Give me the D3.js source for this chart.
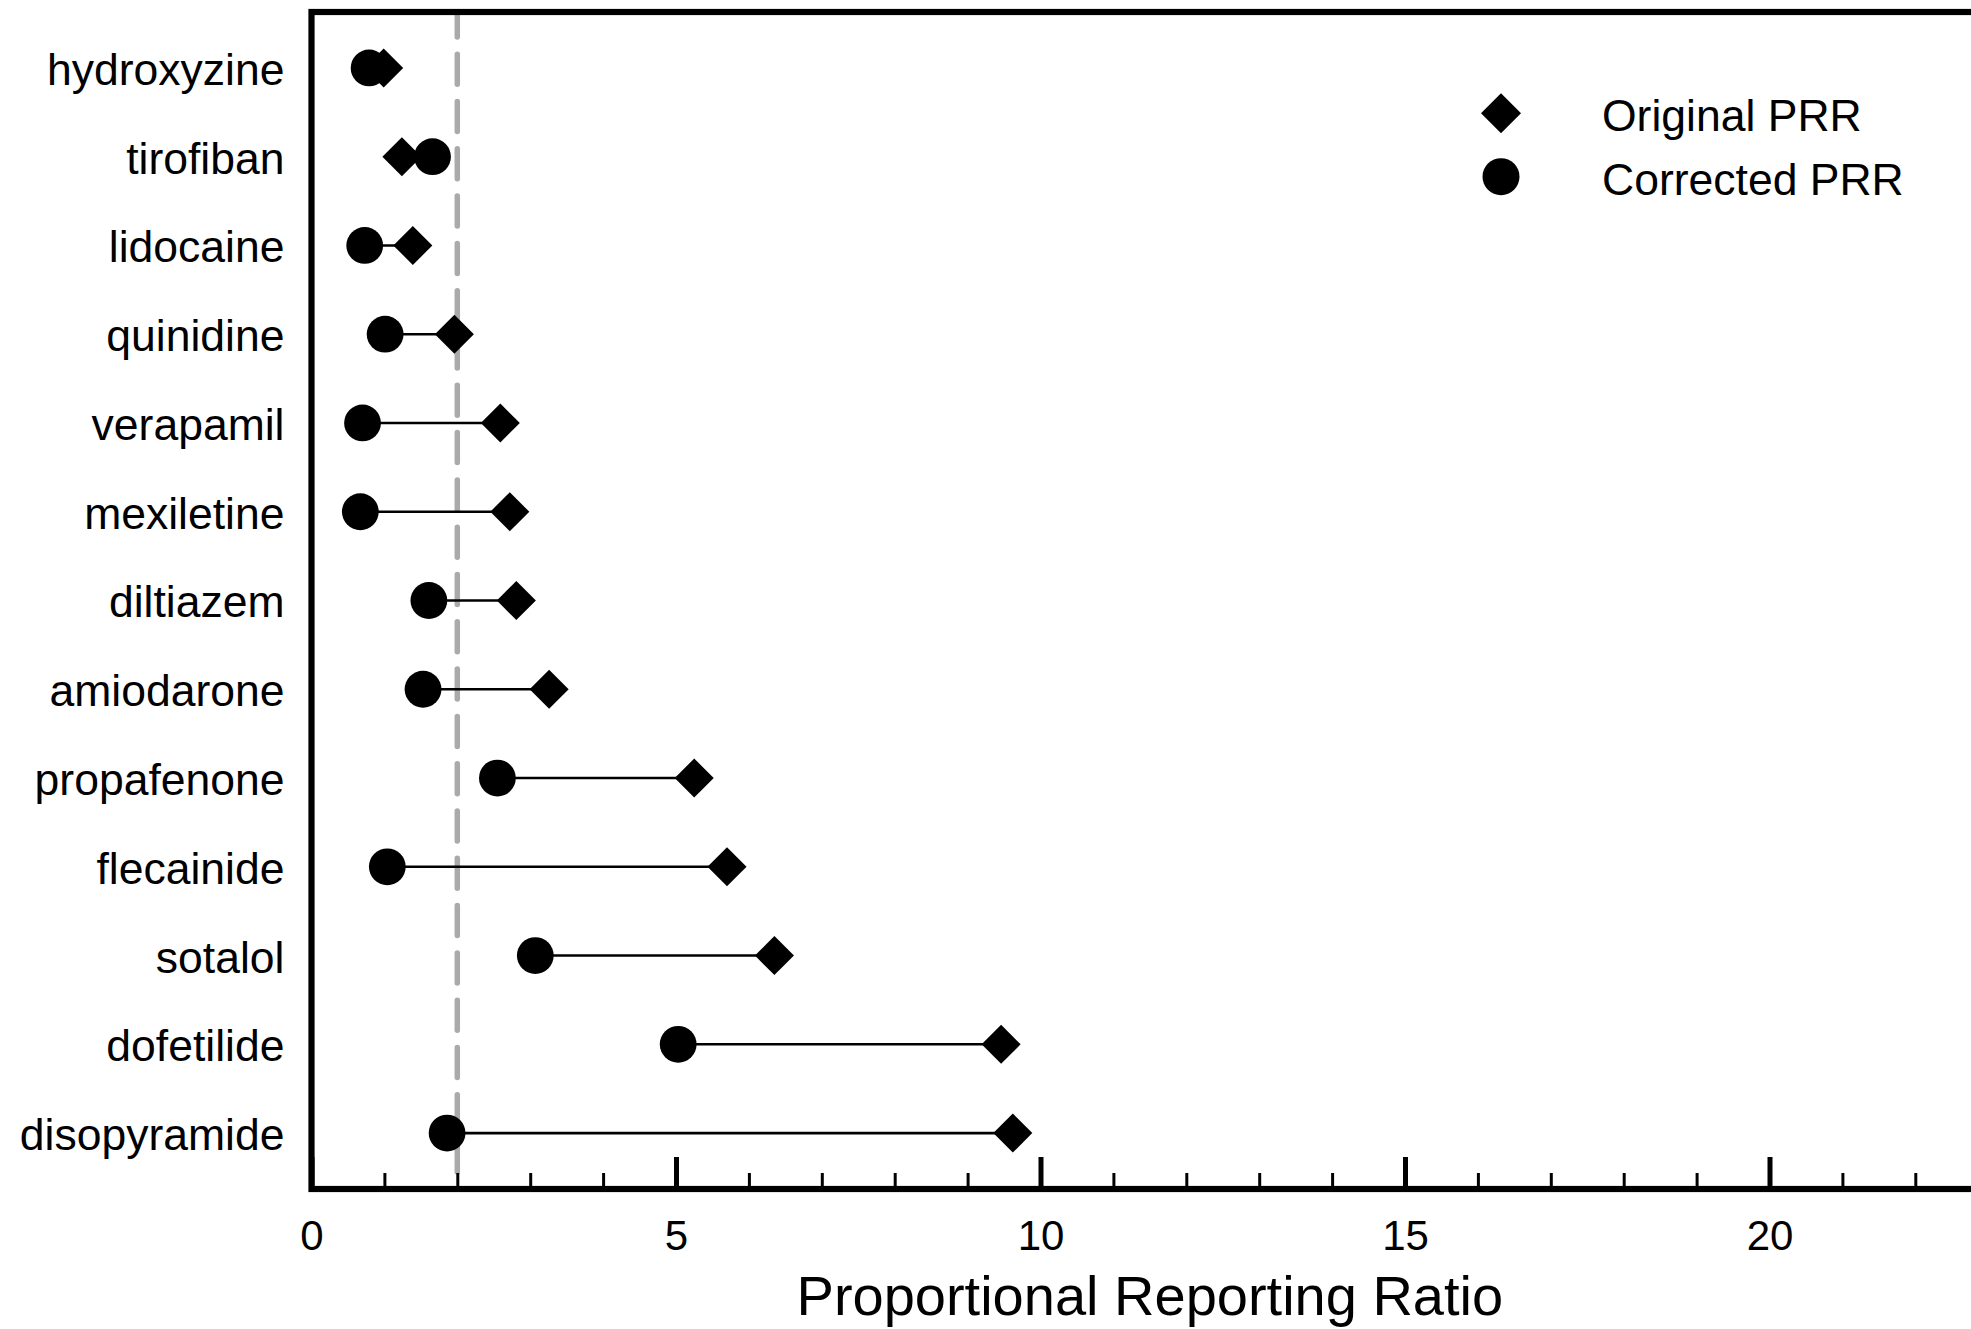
<!DOCTYPE html>
<html>
<head>
<meta charset="utf-8">
<script src="https://cdn.jsdelivr.net/npm/d3@7"></script>
<style>
  html, body { margin: 0; padding: 0; background: #fff; }
  svg { display: block; font-family: "Liberation Sans", Arial, Helvetica, sans-serif; }
</style>
</head>
<body>
<svg id="chart" width="1971" height="1329"></svg>
<script>
// Drugs, top to bottom
const drugs = [
  "hydroxyzine", "tirofiban", "lidocaine", "quinidine", "verapamil",
  "mexiletine", "diltiazem", "amiodarone", "propafenone", "flecainide",
  "sotalol", "dofetilide", "disopyramide"
];
// Proportional reporting ratio before and after correction
const originalPRR  = [0.99, 1.24, 1.39, 1.96, 2.59, 2.72, 2.81, 3.26, 5.25, 5.70, 6.35, 9.46, 9.62];
const correctedPRR = [0.79, 1.66, 0.73, 1.01, 0.70, 0.67, 1.61, 1.53, 2.55, 1.04, 3.07, 5.03, 1.86];
// Signal threshold
const threshold = 2;
// Axis ticks
const majorTicks = [0, 5, 10, 15, 20];
const minorTicks = [1, 2, 3, 4, 6, 7, 8, 9, 11, 12, 13, 14, 16, 17, 18, 19, 21, 22];
const xDomain = [0, 23];
const legendItems = ["Original PRR", "Corrected PRR"];

const svg = d3.select("#chart");
const plotLeft = 311.5, plotRight = 1988.2, plotTop = 12, plotBottom = 1189;

const x = d3.scaleLinear().domain(xDomain).range([plotLeft, plotRight]);
const y = d3.scalePoint().domain(drugs).range([plotTop, plotBottom]).padding(0.63);

const rows = drugs.map((d, i) => ({ drug: d, orig: originalPRR[i], corr: correctedPRR[i] }));

// threshold line (dashed, grey)
svg.append("line")
  .attr("x1", x(threshold)).attr("x2", x(threshold))
  .attr("y1", plotTop).attr("y2", plotBottom)
  .attr("stroke", "#aaaaaa")
  .attr("stroke-width", 5.5)
  .attr("stroke-linecap", "round")
  .attr("stroke-dasharray", "30,17.3")
  .attr("stroke-dashoffset", 5.1);

// stems joining corrected and original values
svg.append("g").selectAll("line")
  .data(rows).join("line")
  .attr("x1", d => x(d.corr)).attr("x2", d => x(d.orig))
  .attr("y1", d => y(d.drug)).attr("y2", d => y(d.drug))
  .attr("stroke", "#000").attr("stroke-width", 2.6);

const diamond = d3.symbol(d3.symbolSquare, 761);

// original PRR: diamonds
svg.append("g").selectAll("path")
  .data(rows).join("path")
  .attr("d", diamond)
  .attr("transform", d => `translate(${x(d.orig)},${y(d.drug)}) rotate(45)`)
  .attr("fill", "#000");

// corrected PRR: circles
svg.append("g").selectAll("circle")
  .data(rows).join("circle")
  .attr("cx", d => x(d.corr)).attr("cy", d => y(d.drug))
  .attr("r", 18.4)
  .attr("fill", "#000");

// frame
svg.append("rect")
  .attr("x", plotLeft).attr("y", plotTop)
  .attr("width", plotRight - plotLeft).attr("height", plotBottom - plotTop)
  .attr("fill", "none").attr("stroke", "#000").attr("stroke-width", 6.2);

// x axis: minor ticks
const minorAxis = svg.append("g")
  .attr("transform", `translate(0,${plotBottom})`)
  .call(d3.axisBottom(x).tickValues(minorTicks).tickSize(-16).tickFormat(""));
minorAxis.select(".domain").remove();
minorAxis.selectAll(".tick line").attr("stroke-width", 3);

// x axis: major ticks with labels
const majorAxis = svg.append("g")
  .attr("transform", `translate(0,${plotBottom})`)
  .call(d3.axisBottom(x).tickValues(majorTicks).tickSize(-32).tickPadding(31).tickFormat(d3.format("d")));
majorAxis.select(".domain").remove();
majorAxis.selectAll(".tick line").attr("stroke-width", 5);
majorAxis.selectAll(".tick text")
  .attr("font-size", 42)
  .attr("font-family", "'Liberation Sans', Arial, Helvetica, sans-serif")
  .attr("fill", "#000");

// y axis: drug names
const yAxis = svg.append("g")
  .attr("transform", `translate(${plotLeft},0)`)
  .call(d3.axisLeft(y).tickSize(0).tickPadding(27));
yAxis.select(".domain").remove();
yAxis.selectAll(".tick text")
  .attr("font-size", 44.5)
  .attr("dy", "0.37em")
  .attr("font-family", "'Liberation Sans', Arial, Helvetica, sans-serif")
  .attr("fill", "#000");

// x axis title
svg.append("text")
  .attr("x", (plotLeft + plotRight) / 2)
  .attr("y", 1315)
  .attr("text-anchor", "middle")
  .attr("font-size", 56)
  .attr("fill", "#000")
  .text("Proportional Reporting Ratio");

// legend
const legend = svg.append("g");
const legendY = [113.3, 176.7];
legend.append("path")
  .attr("d", d3.symbol(d3.symbolSquare, 800))
  .attr("transform", `translate(1501,${legendY[0]}) rotate(45)`)
  .attr("fill", "#000");
legend.append("circle")
  .attr("cx", 1501).attr("cy", legendY[1]).attr("r", 18.5)
  .attr("fill", "#000");
legend.selectAll("text")
  .data(legendItems).join("text")
  .attr("x", 1602)
  .attr("y", (d, i) => legendY[i] + 17.8)
  .attr("font-size", 44.5)
  .attr("fill", "#000")
  .text(d => d);
</script>
</body>
</html>
